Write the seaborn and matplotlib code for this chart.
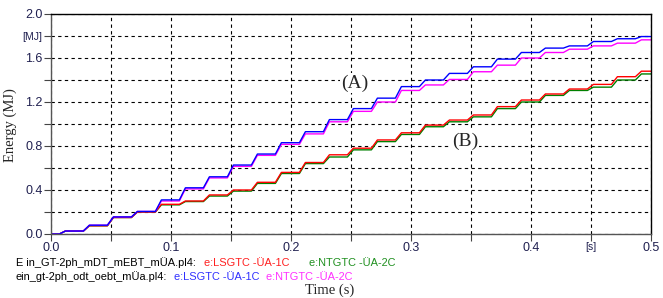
import numpy as np
import pandas as pd
import matplotlib
matplotlib.use("Agg")
import matplotlib.pyplot as plt
import seaborn as sns

# step instants (s) - energy jumps once per half cycle
step_t = [0.01, 0.03, 0.05, 0.07, 0.09, 0.11, 0.13, 0.15, 0.17, 0.19, 0.21, 0.23, 0.25,
          0.27, 0.29, 0.31, 0.33, 0.35, 0.37, 0.39, 0.41, 0.43, 0.45, 0.47, 0.49]

# energy level after each step (MJ)
blue_lvl = [0.027, 0.08, 0.155, 0.205, 0.31, 0.42, 0.52, 0.627, 0.727, 0.83, 0.93, 1.04, 1.14,
            1.235, 1.34, 1.40, 1.46, 1.52, 1.59, 1.65, 1.69, 1.71, 1.75, 1.775, 1.795]
magenta_lvl = [0.027, 0.08, 0.155, 0.205, 0.30, 0.41, 0.51, 0.615, 0.715, 0.815, 0.91, 1.02, 1.115,
               1.20, 1.305, 1.355, 1.405, 1.475, 1.535, 1.60, 1.65, 1.68, 1.71, 1.735, 1.765]
red_lvl = [0.027, 0.075, 0.15, 0.20, 0.27, 0.30, 0.355, 0.40, 0.47, 0.56, 0.65, 0.72, 0.78,
           0.855, 0.92, 0.99, 1.036, 1.082, 1.158, 1.218, 1.273, 1.318, 1.36, 1.43, 1.48]
green_lvl = [0.027, 0.075, 0.15, 0.20, 0.265, 0.295, 0.345, 0.39, 0.46, 0.55, 0.64, 0.70, 0.765,
             0.84, 0.905, 0.975, 1.02, 1.065, 1.14, 1.20, 1.26, 1.305, 1.335, 1.40, 1.455]

t_end = 0.5
y_ticks = [0.0, 0.2, 0.4, 0.6, 0.8, 1.0, 1.2, 1.4, 1.6, 1.8, 2.0]
y_labels = ["0.0", "", "0.4", "", "0.8", "", "1.2", "", "1.6", "[MJ]", "2.0"]
x_ticks = [0.0, 0.05, 0.1, 0.15, 0.2, 0.25, 0.3, 0.35, 0.4, 0.45, 0.5]
x_labels = ["0.0", "", "0.1", "", "0.2", "", "0.3", "", "0.4", "[s]", "0.5"]


def staircase(levels):
    # ramp each jump over a few ms like the simulated trace
    t, e = [0.0], [0.0]
    prev = 0.0
    for tk, lv in zip(step_t, levels):
        t += [tk - 0.003, tk + 0.002]
        e += [prev, lv]
        prev = lv
    t.append(t_end)
    e.append(prev)
    return pd.DataFrame({"t": t, "E": e})


sns.set_style("white")
fig = plt.figure(figsize=(6.63, 2.98), dpi=100)
ax = fig.add_axes([51 / 663, 1 - 234 / 298, 600 / 663, 220 / 298])

curves = [(green_lvl, "#008000"), (red_lvl, "#ff0000"),
          (magenta_lvl, "#ff00ff"), (blue_lvl, "#0000ff")]
for lv, col in curves:
    df = staircase(lv)
    sns.lineplot(data=df, x="t", y="E", ax=ax, color=col, lw=1.0,
                 estimator=None, sort=False)

ax.set_xlim(0, 0.5)
ax.set_ylim(0, 2.0)
ax.set_xticks(x_ticks)
ax.set_xticklabels(x_labels)
ax.set_yticks(y_ticks)
ax.set_yticklabels(y_labels)
ax.set_xlabel("")
ax.set_ylabel("")
ax.grid(True, color="black", ls=(0, (3, 3)), lw=0.8)
ax.tick_params(direction="out", length=5, width=0.8, color="#444444",
               labelsize=9, labelcolor="#202050", pad=1)
for lab in ax.get_xticklabels() + ax.get_yticklabels():
    lab.set_family("Liberation Sans")
    if lab.get_text() in ("[MJ]", "[s]"):
        lab.set_fontsize(7.5)
ax.tick_params(left=True, bottom=True)
for side in ["left", "bottom"]:
    ax.spines[side].set_color("#555555")
    ax.spines[side].set_linewidth(1.0)
for side in ["top", "right"]:
    ax.spines[side].set_color("black")
    ax.spines[side].set_linewidth(1.0)

ax.text(0.253, 1.37, "(A)", family="Liberation Serif", fontsize=14,
        ha="center", va="center", bbox=dict(facecolor="white", edgecolor="none", pad=1))
ax.text(0.345, 0.845, "(B)", family="Liberation Serif", fontsize=14,
        ha="center", va="center", bbox=dict(facecolor="white", edgecolor="none", pad=1))

# legend rows underneath the axes
W, H = 663, 298
rows = [
    (263, [(16, "E in_GT-2ph_mDT_mEBT_mÜA.pl4:", "black"),
           (204, "e:LSGTC -ÜA-1C", "#ff2020"),
           (309, "e:NTGTC -ÜA-2C", "#209020")]),
    (277, [(16, "ein_gt-2ph_odt_oebt_mÜa.pl4:", "black"),
           (174, "e:LSGTC -ÜA-1C", "#3030ff"),
           (266, "e:NTGTC -ÜA-2C", "#ff30ff")]),
]
for ypx, parts in rows:
    for xpx, txt, col in parts:
        fig.text(xpx / W, 1 - ypx / H, txt, color=col, fontsize=7.9,
                 family="Liberation Sans", ha="left", va="center")

fig.text(330 / W, 1 - 290 / H, "Time (s)", family="Liberation Serif",
         fontsize=10.5, ha="center", va="center")
fig.text(10 / W, 1 - 125 / H, "Energy (MJ)", family="Liberation Serif",
         fontsize=10.5, ha="center", va="center", rotation=90)

fig.savefig("out.png", dpi=100)
